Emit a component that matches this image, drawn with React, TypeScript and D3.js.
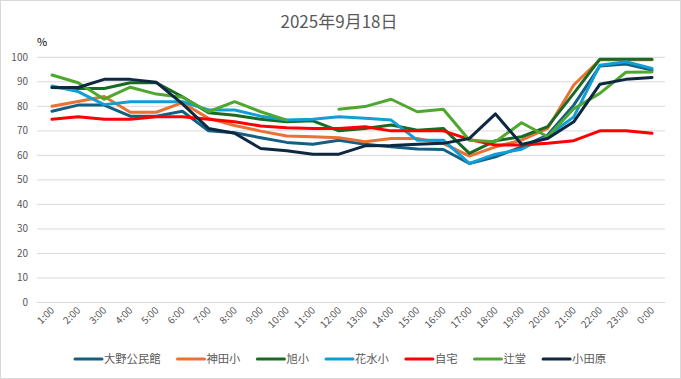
import React from "react";
import * as d3 from "d3";

const hours = ["1:00","2:00","3:00","4:00","5:00","6:00","7:00","8:00","9:00","10:00","11:00","12:00","13:00","14:00","15:00","16:00","17:00","18:00","19:00","20:00","21:00","22:00","23:00","0:00"];

const oono = [78, 80.5, 80.5, 76, 76, 78, 70, 69.2, 67.2, 65.3, 64.5, 66.2, 64.5, 63.5, 62.6, 62.4, 56.7, 59.4, 63.5, 68.3, 80.5, 96.4, 97.3, 94.8];
const kanda = [80, 82, 84, 77.6, 77.6, 81.5, 75.1, 72.2, 69.9, 67.9, 67.6, 67.2, 65.6, 66.9, 66.9, 64.9, 59.7, 63.5, 66.2, 71, 88.7, 99, 99, 99];
const asahi = [87.7, 87.3, 87.3, 89.6, 89.6, 83.9, 77.4, 76.4, 74.7, 73.7, 74.1, 70, 71, 72.4, 70.3, 71, 60.8, 66, 67.6, 71.7, 85.3, 99.2, 99.2, 99.2];
const hanamizu = [88.3, 86, 80.7, 81.9, 81.9, 81.9, 78.5, 78.5, 76, 74.4, 74.7, 75.8, 75.1, 74.4, 66.2, 66.2, 56.7, 60.5, 62.5, 67.8, 75.7, 96.8, 98.2, 95.5];
const jitaku = [74.7, 75.8, 74.7, 74.7, 75.8, 75.8, 74.7, 73.7, 72, 71.3, 71, 71, 71.7, 70, 70, 70, 66.5, 64.2, 64.2, 64.9, 66, 70, 70, 69];
const tsujido: (number | null)[] = [92.8, 89.6, 82.9, 87.8, 85, 83.7, 77.8, 81.9, 77.8, 74.4, null, 78.8, 79.9, 82.9, 77.8, 78.8, 66.2, 65.6, 73.3, 67.6, 79, 85.3, 93.9, 94];
const odawara = [87.7, 87.7, 91, 91, 89.8, 81, 71, 69, 62.8, 61.9, 60.5, 60.5, 63.9, 64, 64.5, 64.9, 66.9, 76.9, 64.5, 66.9, 73.7, 89, 91, 91.8];

const seriesNames = ["大野公民館", "神田小", "旭小", "花水小", "自宅", "辻堂", "小田原"];
const seriesValues: (number | null)[][] = [oono, kanda, asahi, hanamizu, jitaku, tsujido, odawara];
const seriesColors = ["#156082", "#E97132", "#196B24", "#0F9ED5", "#FF0000", "#4EA72E", "#0E2841"];
const yTicks = [0, 10, 20, 30, 40, 50, 60, 70, 80, 90, 100];

const W = 681, H = 379;
const FONT = "'Noto Sans CJK JP', 'Noto Sans', sans-serif";

export default function App() {
  const x = d3.scalePoint<string>().domain(hours).range([52, 652]);
  const y = d3.scaleLinear().domain([0, 100]).range([302.5, 57.3]);
  const line = d3.line<number | null>()
    .defined((d) => d != null)
    .x((_, i) => x(hours[i]) as number)
    .y((d) => y(d as number));

  const legendFont = 11.3;
  const lineLen = 27;
  const widths = seriesNames.map((n) => lineLen + 2 + n.length * legendFont);
  const gap = 17;
  const total = widths.reduce((a, b) => a + b, 0) + gap * (widths.length - 1);
  let lx = (W - total) / 2;
  const legendPos = widths.map((w) => { const p = lx; lx += w + gap; return p; });

  return (
    <svg width={W} height={H} style={{ position: "fixed", left: 0, top: 0, background: "#fff" }} fontFamily={FONT}>
      <rect x={0.5} y={0.5} width={W - 1} height={H - 1} fill="#fff" stroke="#D9D9D9" />
      <text x={339} y={28} textAnchor="middle" fontSize={17} fill="#595959">2025年9月18日</text>
      <text x={37} y={46} fontSize={11} fill="#000">%</text>
      {yTicks.map((t) => (
        <g key={t}>
          <line x1={37} x2={665} y1={y(t)} y2={y(t)} stroke="#D9D9D9" strokeWidth={1} />
          <text x={28} y={y(t) + 3.5} textAnchor="end" fontSize={10} fill="#595959">{t}</text>
        </g>
      ))}
      {hours.map((h) => (
        <text key={h} transform={`translate(${(x(h) as number) + 3},${311}) rotate(-45)`} textAnchor="end" fontSize={10} fill="#595959">{h}</text>
      ))}
      {seriesValues.map((vals, i) => (
        <path key={i} d={line(vals) || ""} fill="none" stroke={seriesColors[i]} strokeWidth={3} strokeLinejoin="round" strokeLinecap="round" />
      ))}
      {seriesNames.map((n, i) => (
        <g key={n} transform={`translate(${legendPos[i]},359)`}>
          <line x1={0} x2={lineLen} y1={0} y2={0} stroke={seriesColors[i]} strokeWidth={3} strokeLinecap="round" />
          <text x={lineLen + 2} y={4} fontSize={legendFont} fill="#595959">{n}</text>
        </g>
      ))}
    </svg>
  );
}
